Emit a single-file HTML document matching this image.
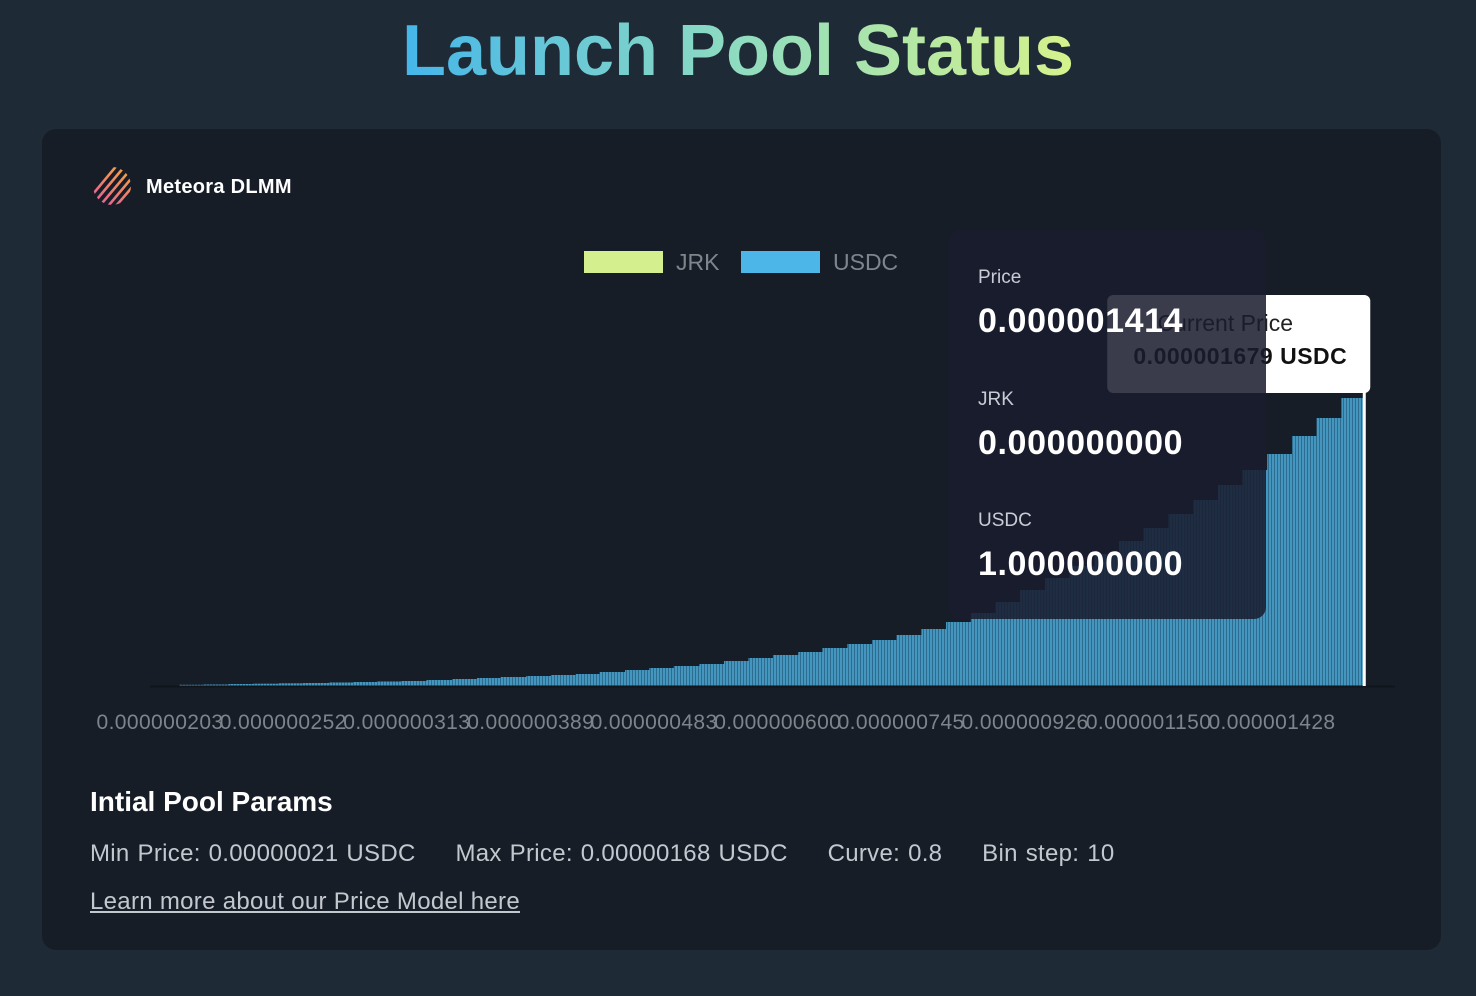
<!DOCTYPE html>
<html><head><meta charset="utf-8"><style>
html,body{margin:0;padding:0;}
body{width:1476px;height:996px;background:#1f2a37;font-family:"Liberation Sans",sans-serif;position:relative;overflow:hidden;}
.title{position:absolute;left:0;width:1476px;top:10px;text-align:center;font-size:72px;font-weight:bold;}
.title span{background:linear-gradient(90deg,#45b6ea 0%,#8fdcc0 50%,#d6f28c 100%);-webkit-background-clip:text;background-clip:text;color:transparent;}
.card{position:absolute;left:42px;top:129px;width:1399px;height:821px;background:#161d27;border-radius:14px;}
.abs{position:absolute;}
</style></head><body>
<div class="title"><span>Launch Pool Status</span></div>
<div class="card"></div>
<svg class="abs" style="left:0;top:0" width="1476" height="996">
<defs>
<pattern id="stripes" width="3" height="10" patternUnits="userSpaceOnUse"><rect width="3" height="10" fill="#2d6c8f"/><rect width="2" height="10" fill="#4596be"/></pattern>
<linearGradient id="logoG" x1="0" y1="1" x2="1" y2="0"><stop offset="0" stop-color="#e65aa0"/><stop offset="1" stop-color="#f6a33c"/></linearGradient>
<clipPath id="logoClip"><circle cx="112" cy="186" r="19"/></clipPath>
</defs>
<g clip-path="url(#logoClip)" stroke="url(#logoG)" stroke-width="2.6">
<line x1="88" y1="200" x2="118" y2="164"/><line x1="93" y1="204" x2="124" y2="167"/><line x1="98" y1="208" x2="130" y2="170"/><line x1="104" y1="211" x2="135" y2="174"/><line x1="110" y1="213" x2="140" y2="178"/>
</g>
<text x="146" y="193" font-size="20" font-weight="bold" letter-spacing="0.3" fill="#ffffff">Meteora DLMM</text>
<g>
<rect x="584" y="251" width="79" height="22" fill="#d4f08e"/>
<text x="676" y="270" font-size="23" fill="#80858c">JRK</text>
<rect x="741" y="251" width="79" height="22" fill="#4db6e8"/>
<text x="833" y="270" font-size="23" fill="#80858c">USDC</text>
</g>
<g id="bars"></g>
<g id="ticks"></g>
<g id="cur"></g>
<g id="tip"></g>
</svg>
<div class="abs" style="left:90px;top:786px;font-size:28px;font-weight:bold;color:#fff">Intial Pool Params</div>
<div class="abs" style="left:90px;top:840px;font-size:24px;color:#c3c8ce;white-space:pre;letter-spacing:0.3px;word-spacing:1px"><span>Min Price: 0.00000021 USDC</span>     <span>Max Price: 0.00000168 USDC</span>     <span>Curve: 0.8</span>     <span>Bin step: 10</span></div>
<a class="abs" style="left:90px;top:888px;font-size:24px;letter-spacing:0.3px;color:#c3c8ce;text-decoration:underline">Learn more about our Price Model here</a>
<script>
// bin left-edge prices (×1e-6 USDC)
const binPrices=[0.210,0.219,0.229,0.239,0.250,0.261,0.273,0.285,0.297,0.310,0.324,0.339,0.354,0.369,0.386,0.403,0.421,0.439,0.459,0.479,0.500,0.523,0.546,0.570,0.595,0.622,0.649,0.678,0.708,0.739,0.772,0.806,0.842,0.879,0.918,0.959,1.001,1.046,1.092,1.140,1.191,1.244,1.299,1.356,1.416,1.479,1.544,1.613];
const binEnd=1.680;
// USDC liquidity per bin (relative units)
const usdcAmounts=[1.2,1.5,2,2.3,2.7,3,3.5,4,4.5,5,6,7,8,9,10,11,12,14,16,18,20,22,25,28,31,34,38,42,46,51,57,64,73,84,96,108,120,132,145,158,172,186,201,216,232,250,268,288];
const tickLabels=["0.000000203","0.000000252","0.000000313","0.000000389","0.000000483","0.000000600","0.000000745","0.000000926","0.000001150","0.000001428"];
const tickPrices=[0.203,0.252,0.313,0.389,0.483,0.600,0.745,0.926,1.150,1.428];
const currentPrice=1.679;
const yMax=300;
const NS="http://www.w3.org/2000/svg";
const baseY=686, plotH=300;
function xScale(p){return 160+570*Math.log(p/0.203);}
function yScale(v){return baseY-v/yMax*plotH;}
function mk(tag,attrs,parent){const e=document.createElementNS(NS,tag);for(const k in attrs)e.setAttribute(k,attrs[k]);parent.appendChild(e);return e;}
const bars=document.getElementById('bars');
for(let i=0;i<binPrices.length;i++){
  const x0=xScale(binPrices[i]);
  const x1=xScale(i+1<binPrices.length?binPrices[i+1]:binEnd);
  const y=yScale(usdcAmounts[i]);
  const r=mk('rect',{x:x0,y:y,width:x1-x0+0.3,height:baseY-y,fill:'url(#stripes)'},bars);
  
  
}
const ticks=document.getElementById('ticks');
const ax=mk('line',{x1:150,y1:baseY+0.5,x2:1395,y2:baseY+0.5,stroke:'#10151c','stroke-width':2},ticks);


for(let i=0;i<tickLabels.length;i++){
  const t=mk('text',{x:xScale(tickPrices[i]),y:729,'font-size':21,'letter-spacing':0.4,fill:'#7e848b','text-anchor':'middle'},ticks);
  t.textContent=tickLabels[i];
  
  
}
const cur=document.getElementById('cur');
const cx=xScale(currentPrice);
const cl=mk('line',{x1:cx,y1:300,x2:cx,y2:baseY,stroke:'#ffffff','stroke-width':3},cur);


const cb=mk('rect',{x:cx-257,y:295,width:263,height:98,rx:6,fill:'#ffffff'},cur);


const ct1=mk('text',{x:cx-139,y:331,'font-size':23,fill:'#222','text-anchor':'middle'},cur);
ct1.textContent='Current Price';


const ct2=mk('text',{x:cx-17,y:364,'font-size':23,'letter-spacing':0.5,'font-weight':'bold',fill:'#111','text-anchor':'end'},cur);
ct2.textContent='0.000001679 USDC';


const tip=document.getElementById('tip');
const tb=mk('rect',{x:948,y:230,width:318,height:389,rx:12,fill:'#1a1c2e','fill-opacity':0.86},tip);


const rows=[['Price','0.000001414',283,332],['JRK','0.000000000',405,454],['USDC','1.000000000',526,575]];
for(const r of rows){
  const a=mk('text',{x:978,y:r[2],'font-size':19,fill:'#c9ccd6'},tip);
  a.textContent=r[0];
  
  
  const b=mk('text',{x:978,y:r[3],'font-size':34,'letter-spacing':0.6,'font-weight':'bold',fill:'#ffffff'},tip);
  b.textContent=r[1];
  
  
}
</script>
</body></html>
